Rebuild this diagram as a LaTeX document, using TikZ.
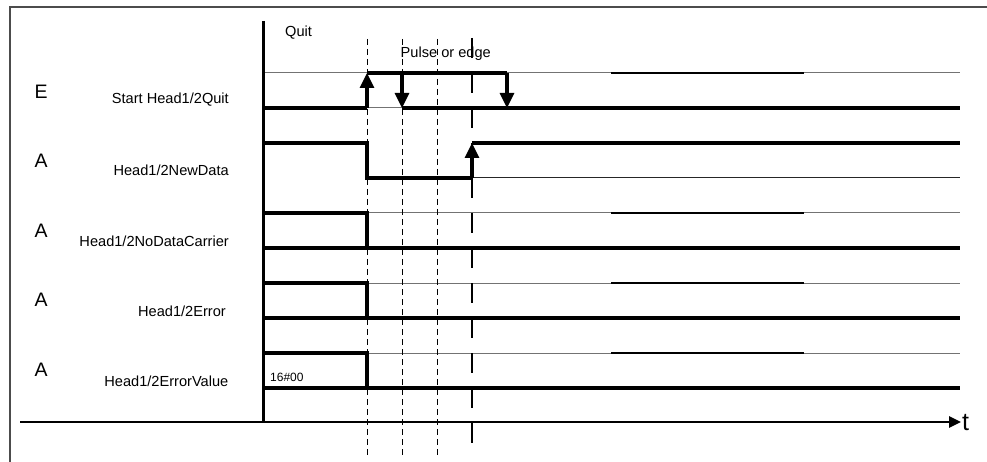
\documentclass[tikz,border=0pt]{standalone}
\usepackage{fontspec}
\setmainfont{Liberation Sans}
\usetikzlibrary{arrows.meta}
\begin{document}
\begin{tikzpicture}[x=1pt,y=-1pt,
  sig/.style={line width=3.2pt},
  hiline/.style={line width=1pt, black!55},
  hidark/.style={line width=1.2pt, black},
  loline/.style={line width=1pt, black!85},
  tdash/.style={line width=0.8pt, dash pattern=on 6pt off 4pt},
  ldash/.style={line width=1.4pt, dash pattern=on 20pt off 15pt},
  arr/.style={sig, -{Triangle[length=15pt,width=14pt]}},
  lab/.style={font=\fontsize{14.6}{16}\selectfont, inner sep=0pt, anchor=base east},
  io/.style={font=\fontsize{19.5}{21}\selectfont, inner sep=0pt, anchor=base west},
  small/.style={font=\fontsize{14.6}{16}\selectfont, inner sep=0pt, anchor=base west}]
\useasboundingbox (0,0) rectangle (987,462);
% frame
\draw[line width=1.5pt, black!70] (10,462) -- (10,7) -- (987,7);

% thin high lines
\draw[hiline] (263,73) -- (960,73);
\draw[hidark] (611,73) -- (804,73);
\draw[loline] (472,178) -- (960,178);
\foreach \y in {213,283,353}{
  \draw[hiline] (367,\y) -- (960,\y);
  \draw[hidark] (611,\y) -- (804,\y);
}
\draw[hiline] (367,108) -- (402,108);

% row 1 : Start Head1/2Quit
\draw[sig] (263,108) -- (367,108);
\draw[sig] (402,108) -- (960,108);
\draw[sig] (367,73) -- (507,73);
\draw[arr] (367,108) -- (367,73);
\draw[arr] (402,73) -- (402,108);
\draw[arr] (507,73) -- (507,108);

% row 2 : NewData
\draw[sig] (263,143) -- (367,143) -- (367,178) -- (472,178);
\draw[arr] (472,178) -- (472,143);
\draw[sig] (472,143) -- (960,143);

% rows 3-5
\foreach \y in {213,283,353}{
  \draw[sig] (263,\y) -- (367,\y) -- (367,\y+35);
  \draw[sig] (263,\y+35) -- (960,\y+35);
}

% dashed time markers
\foreach \x in {367,402,437}{
  \draw[tdash] (\x,39) -- (\x,456);
}
\draw[ldash] (472,38) -- (472,456);

% axes
\draw[line width=3pt] (263,21) -- (263,422);
\draw[line width=2.5pt, -{Triangle[length=12pt,width=11pt]}] (20,422) -- (961,422);
\node[font=\fontsize{25}{27}\selectfont, inner sep=0pt, anchor=base west] (t) at (962,430) {t};

% labels
\node[small] (quit) at (285,37) {Quit};
\node[small] (pulse) at (400.5,57.2) {Pulse or edge};
\node[font=\fontsize{12}{13}\selectfont, inner sep=0pt, anchor=base west] (val) at (270,381.5) {16\#00};

\node[io] (e1) at (34.5,98.3) {E};
\node[lab] (l1) at (229,104) {Start Head1/2Quit};
\node[io] (a2) at (34.5,167.8) {A};
\node[lab] (l2) at (229,175.5) {Head1/2NewData};
\node[io] (a3) at (34.5,237) {A};
\node[lab] (l3) at (229,247) {Head1/2NoDataCarrier};
\node[io] (a4) at (34.5,306.5) {A};
\node[lab] (l4) at (226,316.3) {Head1/2Error};
\node[io] (a5) at (34.5,376) {A};
\node[lab] (l5) at (228.5,386.8) {Head1/2ErrorValue};
\end{tikzpicture}
\end{document}
